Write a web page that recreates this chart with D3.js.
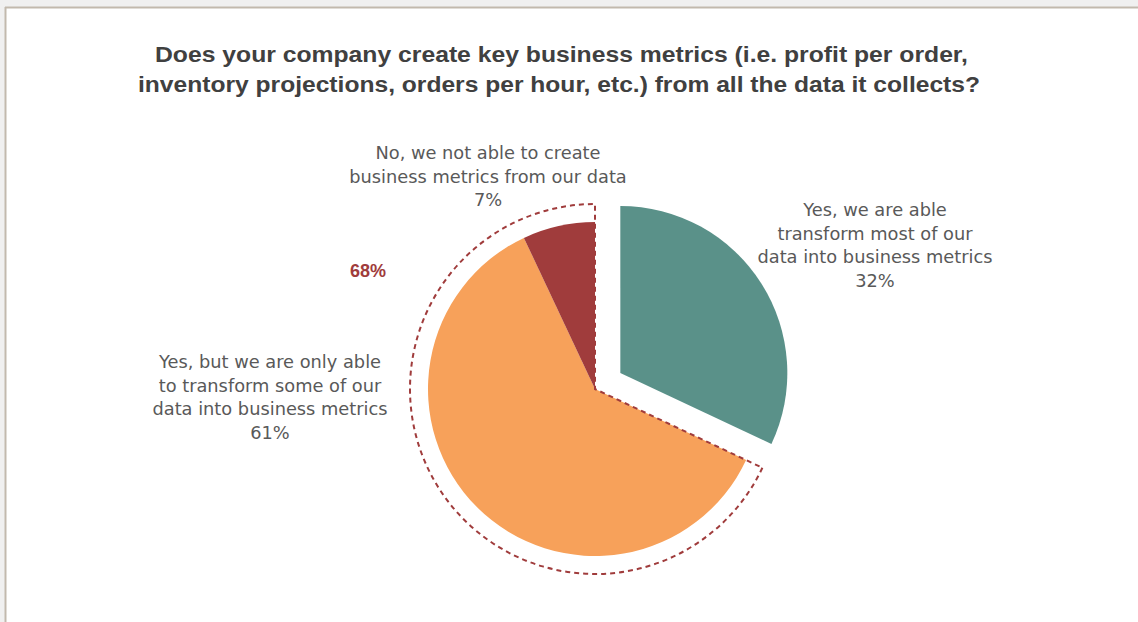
<!DOCTYPE html>
<html>
<head>
<meta charset="utf-8">
<script src="https://cdn.jsdelivr.net/npm/d3@7"></script>
<style>
  html, body { margin: 0; padding: 0; background: #f0f0f0; }
  svg { display: block; }
</style>
</head>
<body>
<svg id="chart" width="1138" height="622"></svg>
<script>
// Survey answers, in drawing order (clockwise from 12 o'clock)
const categories = ["yesMost", "yesSome", "no"];
const values = [32, 61, 7];
const labelLines = [
  ["Yes, we are able", "transform most of our", "data into business metrics"],
  ["Yes, but we are only able", "to transform some of our", "data into business metrics"],
  ["No, we not able to create", "business metrics from our data"]
];
const colors = ["#5a9189", "#f7a15a", "#a03c3c"];
const titleLines = [
  "Does your company create key business metrics (i.e. profit per order,",
  "inventory projections, orders per hour, etc.) from all the data it collects?"
];
const groupedLabel = "68%";

const svg = d3.select("#chart");
const W = 1138, H = 622;

// panel background with its frame
svg.append("rect").attr("x", 0).attr("y", 0).attr("width", W).attr("height", H).attr("fill", "#f0f0f0");
svg.append("rect").attr("x", 6).attr("y", 8).attr("width", W - 6).attr("height", H - 8).attr("fill", "#ffffff");
svg.append("line").attr("x1", 5).attr("x2", W).attr("y1", 7.5).attr("y2", 7.5).attr("stroke", "#c2b9ad").attr("stroke-width", 2);
svg.append("line").attr("x1", 5.5).attr("x2", 5.5).attr("y1", 7).attr("y2", H).attr("stroke", "#c2b9ad").attr("stroke-width", 2);

const font = "'DejaVu Sans', sans-serif";

// title, each line stretched to its set width
const titleSpans = [{ x: 561.5, w: 813 }, { x: 559, w: 842 }];
svg.append("g").selectAll("text").data(titleLines).join("text")
  .attr("x", (d, i) => titleSpans[i].x).attr("y", (d, i) => 62 + i * 30)
  .attr("text-anchor", "middle")
  .attr("font-family", "'Liberation Sans', Arial, sans-serif")
  .attr("font-weight", "bold").attr("font-size", 22)
  .attr("textLength", (d, i) => titleSpans[i].w)
  .attr("lengthAdjust", "spacingAndGlyphs")
  .attr("fill", "#404040")
  .text(d => d);

const cx = 595, cy = 389, r = 167, rOuter = 185, explode = 30;

const pie = d3.pie().sort(null).value(d => d)(values);
const arc = d3.arc().innerRadius(0).outerRadius(r);

const g = svg.append("g").attr("transform", `translate(${cx},${cy})`);

g.selectAll("path.slice").data(pie).join("path")
  .attr("class", "slice")
  .attr("d", arc)
  .attr("fill", (d, i) => colors[i])
  .attr("transform", (d, i) => {
    if (i !== 0) return null;
    const a = (d.startAngle + d.endAngle) / 2;
    return `translate(${explode * Math.sin(a)},${-explode * Math.cos(a)})`;
  });

// dashed outline around the two remaining answers combined (68%)
const grouped = { startAngle: pie[1].startAngle, endAngle: pie[2].endAngle };
g.append("path")
  .attr("d", d3.arc().innerRadius(0).outerRadius(rOuter)(grouped))
  .attr("fill", "none")
  .attr("stroke", "#a03c3c")
  .attr("stroke-width", 2)
  .attr("stroke-dasharray", "5,4");

svg.append("text")
  .attr("x", 368).attr("y", 277)
  .attr("text-anchor", "middle")
  .attr("font-family", "'Liberation Sans', Arial, sans-serif")
  .attr("font-weight", "bold").attr("font-size", 18)
  .attr("fill", "#a03c3c")
  .text(groupedLabel);

// slice labels: description lines then the percentage
const labelPos = [
  { x: 875, y: 216 },
  { x: 270, y: 368 },
  { x: 488, y: 159 }
];
const lh = 23.5;
labelLines.forEach((lines, i) => {
  const all = lines.concat([values[i] + "%"]);
  svg.append("g").selectAll("text").data(all).join("text")
    .attr("x", labelPos[i].x)
    .attr("y", (d, j) => labelPos[i].y + j * lh)
    .attr("text-anchor", "middle")
    .attr("font-family", font)
    .attr("font-size", 17.8)
    .attr("fill", "#595959")
    .text(d => d);
});
</script>
</body>
</html>
